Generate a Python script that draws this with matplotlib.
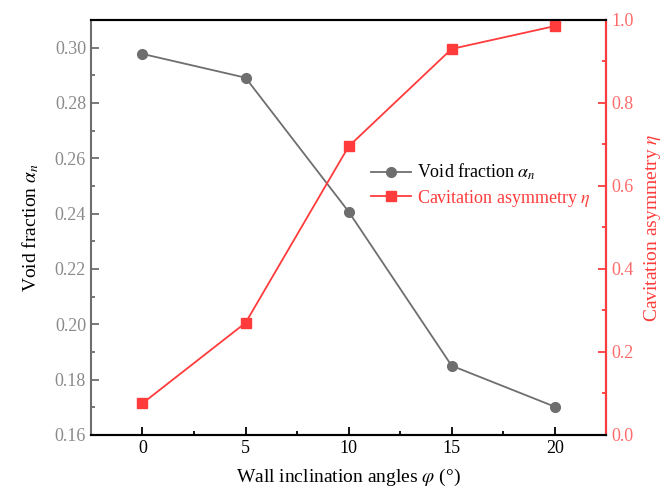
import matplotlib
matplotlib.use('Agg')
import matplotlib.pyplot as plt
from matplotlib.ticker import MultipleLocator

plt.rcParams['font.family'] = 'Liberation Serif'
plt.rcParams['mathtext.fontset'] = 'stix'

angles = [0, 5, 10, 15, 20]
void_frac = [0.2977, 0.2891, 0.2407, 0.1850, 0.1702]
asym = [0.076, 0.27, 0.695, 0.93, 0.985]

gray = '#6e6e6e'
red = '#ff3b3b'

fig = plt.figure(figsize=(6.64, 4.97), dpi=100)
ax = fig.add_axes([0.137, 0.125, 0.776, 0.835])
ax2 = ax.twinx()

l1, = ax.plot(angles, void_frac, color=gray, lw=1.3, marker='o', ms=7,
              label=r'Void fraction $\it{\alpha}_n$')
l2, = ax2.plot(angles, asym, color=red, lw=1.3, marker='s', ms=6.5,
               label=r'Cavitation asymmetry $\it{\eta}$')

ax.set_xlim(-2.5, 22.5)
ax.set_ylim(0.16, 0.31)
ax2.set_ylim(0, 1.0)

ax.xaxis.set_major_locator(MultipleLocator(5))
ax.xaxis.set_minor_locator(MultipleLocator(2.5))
ax.yaxis.set_major_locator(MultipleLocator(0.02))
ax.yaxis.set_minor_locator(MultipleLocator(0.01))
ax2.yaxis.set_major_locator(MultipleLocator(0.2))
ax2.yaxis.set_minor_locator(MultipleLocator(0.1))
ax.yaxis.set_major_formatter(plt.FormatStrFormatter('%.2f'))
ax2.yaxis.set_major_formatter(plt.FormatStrFormatter('%.1f'))

for a in (ax, ax2):
    for s in a.spines.values():
        s.set_linewidth(1.5)
ax.spines['left'].set_color('#6e6e6e')
ax2.spines['left'].set_visible(False)
ax2.spines['right'].set_color(red)
ax.spines['bottom'].set_color('black')
ax.spines['top'].set_color('black')

ax.tick_params(axis='x', which='both', direction='in', colors='black', labelsize=13, width=1.3)
ax.tick_params(axis='x', which='major', length=6)
ax.tick_params(axis='x', which='minor', length=3)
ax.tick_params(axis='y', which='both', direction='in', colors='#6e6e6e', labelsize=13, width=1.3)
ax.tick_params(axis='y', which='major', length=6)
ax.tick_params(axis='y', which='minor', length=3)
ax2.tick_params(axis='y', which='both', direction='in', colors=red, labelsize=13, width=1.3)
ax2.tick_params(axis='y', which='major', length=6)
ax2.tick_params(axis='y', which='minor', length=3)
for t in ax2.get_yticklabels():
    t.set_color('#ff6b6b')
for t in ax.get_yticklabels():
    t.set_color('#8a8a8a')

ax.set_xlabel(r'Wall inclination angles $\it{\varphi}$ (°)', fontsize=14, labelpad=7)
ax.set_ylabel(r'Void fraction $\it{\alpha}_n$', fontsize=14, color='black', labelpad=10)
ax2.set_ylabel(r'Cavitation asymmetry $\it{\eta}$', fontsize=14, color=red, labelpad=6)

leg = ax.legend(handles=[l1, l2], loc='upper left', bbox_to_anchor=(0.535, 0.707),
                bbox_transform=fig.transFigure, frameon=False, fontsize=13,
                handlelength=2.2, handletextpad=0.3, labelspacing=0.3)
leg.get_texts()[1].set_color(red)

fig.savefig('out.png', dpi=100)
